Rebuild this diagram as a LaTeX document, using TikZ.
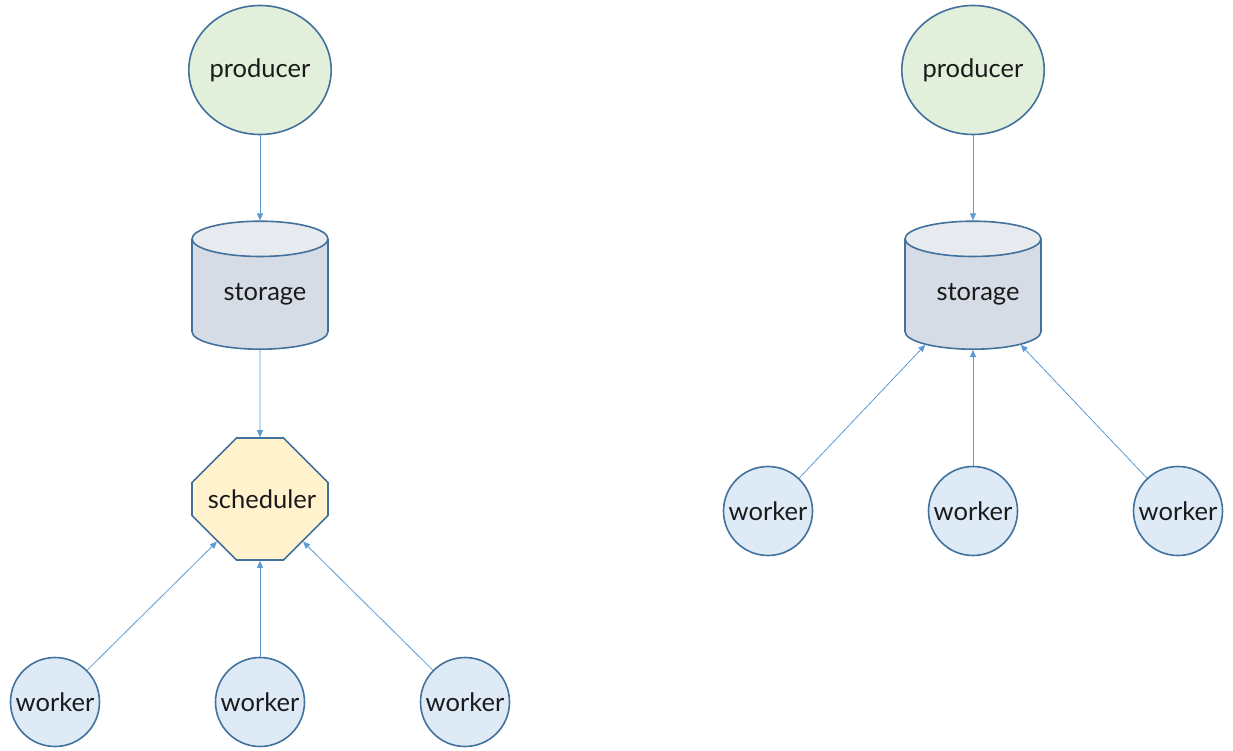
\documentclass[tikz,border=0pt]{standalone}
\usepackage{fontspec}
\setmainfont{Lato}
\usetikzlibrary{positioning, arrows.meta, shapes.geometric, shapes.misc}
\definecolor{Edge}{HTML}{41719C}
\definecolor{Link}{HTML}{5B9BD5}
\definecolor{ProdFill}{HTML}{E2EFDA}
\definecolor{BodyFill}{HTML}{D6DCE5}
\definecolor{TopFill}{HTML}{E7EAEF}
\definecolor{SchedFill}{HTML}{FFF2CC}
\definecolor{WorkFill}{HTML}{DEEBF7}
\definecolor{Ink}{HTML}{1A1A1A}
\tikzset{
    base/.style={draw=Edge, line width=1.6pt, text=Ink, inner sep=0pt, font=\fontsize{25.5}{28}\selectfont},
    prodnode/.style={base, ellipse, fill=ProdFill, minimum width=136pt, minimum height=129pt},
    storenode/.style={base, cylinder, shape border rotate=90, aspect=0.38, minimum width=136pt, minimum height=128pt,
        cylinder uses custom fill, cylinder body fill=BodyFill, cylinder end fill=TopFill},
    schednode/.style={base, chamfered rectangle, chamfered rectangle xsep=35pt, chamfered rectangle ysep=35pt,
        fill=SchedFill, minimum width=136pt, minimum height=122pt},
    worknode/.style={base, circle, fill=WorkFill, minimum size=89pt},
    arrow/.style={-{Triangle[length=7pt, width=6pt]}, line width=0.8pt, color=Link},
}
\begin{document}
\begin{tikzpicture}[x=1pt, y=-1pt]
    \useasboundingbox (0,0) rectangle (1233,751);

    % Left: with scheduler
    \node[prodnode] (prodL) at (260,70) {producer};
    \node[storenode, anchor=south] (storeL) at (260,350) {\hspace{10pt}storage};
    \node[schednode] (sched) at (260,499) {\hspace{4pt}scheduler};
    \node[worknode] (wL1) at (55,702) {worker};
    \node[worknode] (wL2) at (260,702) {worker};
    \node[worknode] (wL3) at (465,702) {worker};

    \draw[arrow] (prodL) -- (storeL);
    \draw[arrow] (storeL) -- (sched);
    \foreach \w in {wL1, wL2, wL3}
        \draw[arrow] (\w) -- (sched);

    % Right: workers pull from storage
    \node[prodnode] (prodR) at (973,70) {producer};
    \node[storenode, anchor=south] (storeR) at (973,350) {\hspace{10pt}storage};
    \node[worknode] (wR1) at (768,511) {worker};
    \node[worknode] (wR2) at (973,511) {worker};
    \node[worknode] (wR3) at (1178,511) {worker};

    \draw[arrow] (prodR) -- (storeR);
    \foreach \w in {wR1, wR2, wR3}
        \draw[arrow] (\w) -- (storeR);
\end{tikzpicture}
\end{document}
